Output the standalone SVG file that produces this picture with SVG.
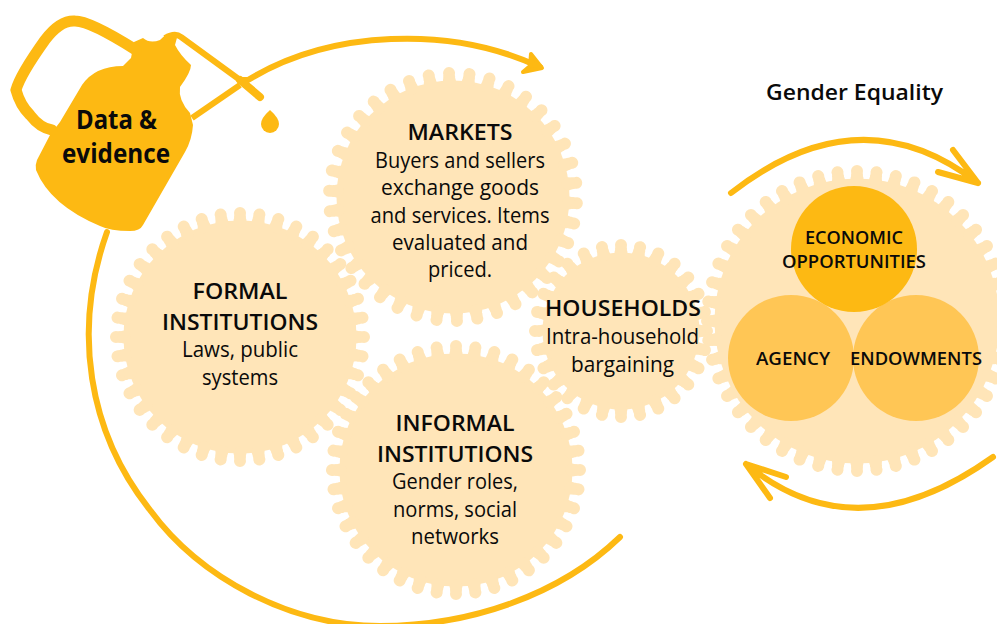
<svg xmlns="http://www.w3.org/2000/svg" width="997" height="624" viewBox="0 0 997 624">
<style>
.g{fill:#FFE5B8}
.t,.m,.u{fill:none;stroke:#FFE5B8;stroke-linecap:round;stroke-dasharray:0.001 0.999}
.t{stroke-width:12}
.m{stroke-width:12}
.u{stroke-width:13}
.c{fill:none;stroke:#FDB913;stroke-linecap:round;stroke-linejoin:round;stroke-width:6}
text{font-family:"Open Sans","Noto Sans","Liberation Sans",sans-serif;fill:#0a0a0a;text-anchor:middle;font-size:21px}
.b{font-weight:600;font-size:22px}
.s{font-weight:600;font-size:18px}
.d{font-weight:700;font-size:26px}
</style>
<rect width="997" height="624" fill="#fff"/>
<g id="gear-formal">
<circle class="g" cx="240" cy="337" r="116.500"/>
<circle class="t" cx="240" cy="337" r="124" pathLength="40"/>
<circle class="m" cx="240" cy="337" r="120" pathLength="40"/>
<circle class="u" cx="240" cy="337" r="116" pathLength="40"/>
<text class="b" x="240" y="299" textLength="95" lengthAdjust="spacingAndGlyphs">FORMAL</text>
<text class="b" x="240" y="330" textLength="156" lengthAdjust="spacingAndGlyphs">INSTITUTIONS</text>
<text x="240" y="357" textLength="116" lengthAdjust="spacingAndGlyphs">Laws, public</text>
<text x="240" y="385" textLength="76" lengthAdjust="spacingAndGlyphs">systems</text>
</g>
<g id="gear-markets">
<circle class="g" cx="453" cy="197" r="116.500"/>
<g transform="rotate(2.9 453 197)">
<circle class="t" cx="453" cy="197" r="124" pathLength="38"/>
<circle class="m" cx="453" cy="197" r="120" pathLength="38"/>
<circle class="u" cx="453" cy="197" r="116" pathLength="38"/>
</g>
<text class="b" x="460" y="140" textLength="105" lengthAdjust="spacingAndGlyphs">MARKETS</text>
<text x="460" y="168" textLength="170" lengthAdjust="spacingAndGlyphs">Buyers and sellers</text>
<text x="460" y="195" textLength="158" lengthAdjust="spacingAndGlyphs">exchange goods</text>
<text x="460" y="223" textLength="179" lengthAdjust="spacingAndGlyphs">and services. Items</text>
<text x="460" y="250" textLength="136" lengthAdjust="spacingAndGlyphs">evaluated and</text>
<text x="460" y="277" textLength="64" lengthAdjust="spacingAndGlyphs">priced.</text>
</g>
<g id="gear-informal">
<circle class="g" cx="456" cy="470" r="116.500"/>
<circle class="t" cx="456" cy="470" r="124" pathLength="40"/>
<circle class="m" cx="456" cy="470" r="120" pathLength="40"/>
<circle class="u" cx="456" cy="470" r="116" pathLength="40"/>
<text class="b" x="455" y="431" textLength="119" lengthAdjust="spacingAndGlyphs">INFORMAL</text>
<text class="b" x="455" y="462" textLength="156" lengthAdjust="spacingAndGlyphs">INSTITUTIONS</text>
<text x="455" y="489" textLength="126" lengthAdjust="spacingAndGlyphs">Gender roles,</text>
<text x="455" y="517" textLength="124" lengthAdjust="spacingAndGlyphs">norms, social</text>
<text x="455" y="544" textLength="88" lengthAdjust="spacingAndGlyphs">networks</text>
</g>
<g id="gear-households">
<circle class="g" cx="621" cy="331" r="78.500"/>
<circle class="t" cx="621" cy="331" r="86" pathLength="28"/>
<circle class="m" cx="621" cy="331" r="82" pathLength="28"/>
<circle class="u" cx="621" cy="331" r="78" pathLength="28"/>
<text class="b" x="623" y="316" textLength="156" lengthAdjust="spacingAndGlyphs">HOUSEHOLDS</text>
<text x="622.500" y="344" textLength="153" lengthAdjust="spacingAndGlyphs">Intra-household</text>
<text x="622.500" y="372" textLength="103" lengthAdjust="spacingAndGlyphs">bargaining</text>
</g>
<g id="gear-equality">
<circle class="g" cx="857" cy="321" r="142.500"/>
<circle class="t" cx="857" cy="321" r="150" pathLength="48"/>
<circle class="m" cx="857" cy="321" r="146" pathLength="48"/>
<circle class="u" cx="857" cy="321" r="142" pathLength="48"/>
</g>
<g id="agency">
<circle cx="791" cy="358" r="63" fill="#FFC655"/>
<text class="s" x="793" y="365" textLength="74" lengthAdjust="spacingAndGlyphs">AGENCY</text>
</g>
<g id="endowments">
<circle cx="916" cy="358" r="63" fill="#FFC655"/>
<text class="s" x="916" y="365" textLength="132" lengthAdjust="spacingAndGlyphs">ENDOWMENTS</text>
</g>
<g id="economic">
<circle cx="854" cy="249" r="63" fill="#FDB913"/>
<text class="s" x="854" y="244" textLength="98" lengthAdjust="spacingAndGlyphs">ECONOMIC</text>
<text class="s" x="854" y="268" textLength="144" lengthAdjust="spacingAndGlyphs">OPPORTUNITIES</text>
</g>
<g id="connectors">
<path class="c" d="M107 232C72 330 88 432 150 510C200 578 290 626 380 626C470 626 560 595 620 537"/>
<path class="c" d="M248 80C330 30 450 25 540 67"/>
<path fill="#FDB913" stroke="#FDB913" stroke-width="4" stroke-linejoin="round" stroke-linecap="round" d="M531 54L542 68L523 72L530 66Z"/>
<path class="c" d="M731 193Q860 92 978 183M953 150L978 183L938 172"/>
<path class="c" d="M993 457Q856 555 746 464M786 477L746 464L770 498"/>
</g>
<g id="jug">
<path fill="#FDB913" d="M134 42L143 38Q150 44 160 40Q170 30 178 34L175 45Q180 55 191 65Q191 72 180 87Q178 100 190 113L193 125Q192 140 185 152L143 225Q140 231 130 231Q110 231 100 226Q50 205 36 170Q35 165 37 160L50 135L60 122L82 85Q95 66 123 66L131 58Z"/>
<path fill="none" stroke="#FDB913" stroke-width="11" stroke-linecap="round" d="M136 50Q90 21 75 21Q60 20 45 40Q20 75 16 90Q20 105 30 115Q40 128 52 130"/>
<path fill="none" stroke="#FDB913" stroke-width="6" stroke-linejoin="round" d="M165 38Q175 32 181 37L240 80L248 80M192 118L240 85"/>
<path fill="none" stroke="#FDB913" stroke-width="8" stroke-linecap="round" d="M240 80L260 97"/>
<path fill="#FDB913" d="M270 110Q279 118 279 124A9 9 0 0 1 261 124Q261 118 270 110Z"/>
<text class="d" x="116.500" y="129" textLength="81" lengthAdjust="spacingAndGlyphs">Data &amp;</text>
<text class="d" x="116" y="163" textLength="108" lengthAdjust="spacingAndGlyphs">evidence</text>
</g>
<text id="title" class="b" x="854.500" y="100" textLength="177" lengthAdjust="spacingAndGlyphs">Gender Equality</text>
</svg>
